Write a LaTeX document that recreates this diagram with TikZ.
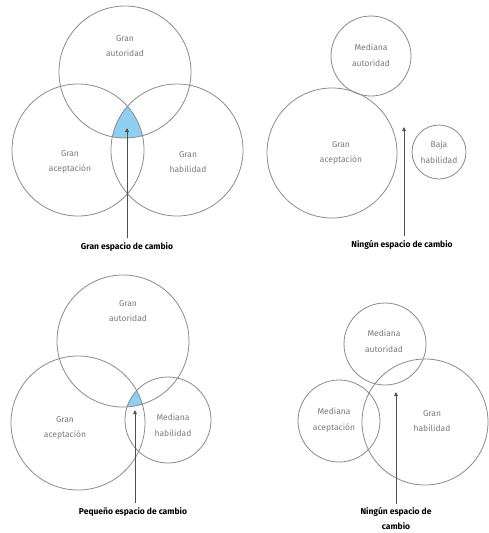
\documentclass[tikz,border=0pt]{standalone}
\usepackage{fontspec}
\setmainfont{Fira Sans}
\usetikzlibrary{arrows.meta}
\definecolor{ringc}{HTML}{8A8A8A}
\definecolor{txtc}{HTML}{7A7A7A}
\definecolor{zonec}{HTML}{8FD0F0}
\definecolor{arrc}{HTML}{505050}

\tikzset{
  ring/.style={draw=ringc,line width=0.8pt},
  tag/.style={font=\fontsize{8.5}{15.5}\selectfont,text=txtc,align=center,inner sep=0pt},
  caption/.style={font=\bfseries\fontsize{8.5}{15}\selectfont,align=center,inner sep=1pt},
  arr/.style={arrc,line width=0.9pt,shorten <=3pt,-{Triangle[length=4pt,width=3.5pt]}}
}

\begin{document}
\begin{tikzpicture}[x=1pt,y=-1pt]
  \useasboundingbox (0,0) rectangle (488,533);

  % top left: three large circles
  \coordinate (aut1) at (125,72);
  \coordinate (acc1) at (78,150);
  \coordinate (hab1) at (177,150);
  \begin{scope}
    \clip (aut1) circle (66);
    \clip (acc1) circle (66);
    \fill[zonec] (hab1) circle (66);
  \end{scope}
  \draw[ring] (aut1) circle (66);
  \draw[ring] (acc1) circle (66);
  \draw[ring] (hab1) circle (66);
  \node[tag] (taut1) at (125,46) {Gran\\autoridad};
  \node[tag] (tacc1) at (70,162) {Gran\\aceptación};
  \node[tag] (thab1) at (188,162) {Gran\\habilidad};
  \coordinate (tip1) at (127,128);
  \node[caption] (lab1) at (127,247) {Gran espacio de cambio};
  \draw[arr] (lab1.north) -- (tip1);

  % top right: no overlap
  \coordinate (aut2) at (371,56);
  \coordinate (acc2) at (332,153);
  \coordinate (hab2) at (439,152);
  \draw[ring] (aut2) circle (40);
  \draw[ring] (acc2) circle (65);
  \draw[ring] (hab2) circle (27);
  \node[tag] (taut2) at (371,55) {Mediana\\autoridad};
  \node[tag] (tacc2) at (341,153) {Gran\\aceptación};
  \node[tag] (thab2) at (439,152) {Baja\\habilidad};
  \coordinate (tip2) at (404,127);
  \node[caption] (lab2) at (402,245) {Ningún espacio de cambio};
  \draw[arr] (lab2.north -| tip2) -- (tip2);

  % bottom left: small overlap
  \coordinate (aut3) at (123,341);
  \coordinate (acc3) at (78,423);
  \coordinate (hab3) at (168,420);
  \begin{scope}
    \clip (aut3) circle (66);
    \clip (acc3) circle (67);
    \fill[zonec] (hab3) circle (43);
  \end{scope}
  \draw[ring] (aut3) circle (66);
  \draw[ring] (acc3) circle (67);
  \draw[ring] (hab3) circle (43);
  \node[tag] (taut3) at (128,311) {Gran\\autoridad};
  \node[tag] (tacc3) at (65,428) {Gran\\aceptación};
  \node[tag] (thab3) at (173,425) {Mediana\\habilidad};
  \coordinate (tip3) at (135,410);
  \node[caption] (lab3) at (133,512) {Pequeño espacio de cambio};
  \draw[arr] (lab3.north -| tip3) -- (tip3);

  % bottom right: pairs only
  \coordinate (aut4) at (385,344);
  \coordinate (acc4) at (339,421);
  \coordinate (hab4) at (425,422);
  \draw[ring] (aut4) circle (41);
  \draw[ring] (acc4) circle (41);
  \draw[ring] (hab4) circle (63);
  \node[tag] (taut4) at (384,341) {Mediana\\autoridad};
  \node[tag] (tacc4) at (334,420) {Mediana\\aceptación};
  \node[tag] (thab4) at (432,421) {Gran\\habilidad};
  \coordinate (tip4) at (396,392);
  \node[caption] (lab4) at (396,519) {Ningún espacio de\\cambio};
  \draw[arr] (lab4.north -| tip4) -- (tip4);
\end{tikzpicture}
\end{document}
